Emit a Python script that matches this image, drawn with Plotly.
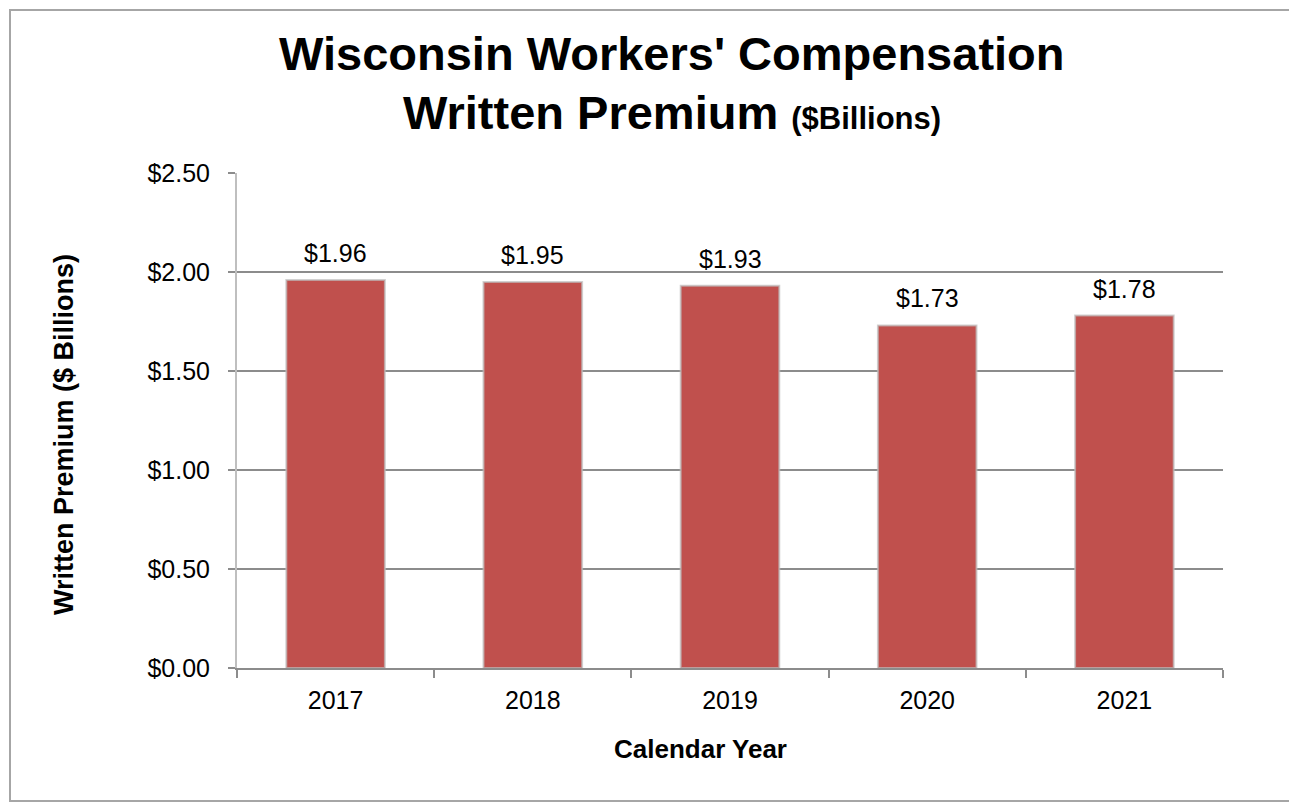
import plotly.graph_objects as go

years = ["2017", "2018", "2019", "2020", "2021"]
premium = [1.96, 1.95, 1.93, 1.73, 1.78]
y_ticks = [0, 0.5, 1.0, 1.5, 2.0, 2.5]
y_tick_labels = ["$0.00", "$0.50", "$1.00", "$1.50", "$2.00", "$2.50"]

FONT = "Liberation Sans, Arial, sans-serif"
OFF = 8  # page body margin
W, H = 1297 - OFF, 805 - OFF
# plot area in page pixels: x 237..1223, y 173..668
L, T = 237 - OFF, 173 - OFF
R, B = W - (1223 - OFF), H - (668 - OFF)
pw, ph = W - L - R, H - T - B

def px_x(p):
    return (p - OFF - L) / pw

def px_y(p):
    return (H - B - (p - OFF)) / ph

fig = go.Figure()
fig.add_trace(go.Bar(
    x=years, y=premium, width=0.5,
    marker=dict(color="#C0504D", line=dict(color="rgba(190,190,190,0.7)", width=2)),
    hoverinfo="x+y",
))

annotations = []
for i, v in enumerate(premium):
    annotations.append(dict(
        x=i, y=v, xref="x", yref="y", text=f"${v:.2f}", showarrow=False,
        yanchor="bottom", yshift=11, font=dict(family=FONT, size=25, color="#000"),
    ))

annotations.append(dict(
    x=px_x(672), y=px_y(53), xref="paper", yref="paper",
    text="<b>Wisconsin Workers' Compensation</b>", showarrow=False,
    xanchor="center", yanchor="middle",
    font=dict(family=FONT, size=47, color="#000"),
))
annotations.append(dict(
    x=px_x(672), y=px_y(112), xref="paper", yref="paper",
    text="<b>Written Premium <span style='font-size:31px'>($Billions)</span></b>",
    showarrow=False, xanchor="center", yanchor="middle",
    font=dict(family=FONT, size=47, color="#000"),
))
annotations.append(dict(
    x=px_x(700), y=px_y(749), xref="paper", yref="paper",
    text="<b>Calendar Year</b>", showarrow=False, xanchor="center", yanchor="middle",
    font=dict(family=FONT, size=26, color="#000"),
))
annotations.append(dict(
    x=px_x(64), y=px_y(435), xref="paper", yref="paper",
    text="<b>Written Premium ($ Billions)</b>", showarrow=False, textangle=-90,
    xanchor="center", yanchor="middle",
    font=dict(family=FONT, size=27, color="#000"),
))

fig.update_layout(
    width=W, height=H,
    margin=dict(l=L, r=R, t=T, b=B),
    paper_bgcolor="white", plot_bgcolor="white",
    showlegend=False, bargap=0.5,
    font=dict(family=FONT, size=25, color="#000"),
    xaxis=dict(
        type="category", showgrid=False, showline=True, linecolor="#8C8C8C", linewidth=2,
        ticks="outside", tickson="boundaries", ticklen=8, tickcolor="#8C8C8C", tickwidth=2,
        tickfont=dict(family=FONT, size=25, color="#000"), ticklabelstandoff=9,
        range=[-0.5, 4.5],
    ),
    yaxis=dict(
        range=[0, 2.5], tickvals=y_ticks, ticktext=y_tick_labels,
        showgrid=True, gridcolor="#8C8C8C", gridwidth=2,
        showline=True, linecolor="#BFBFBF", linewidth=2,
        ticks="outside", ticklen=7, tickcolor="#8C8C8C", tickwidth=2,
        tickfont=dict(family=FONT, size=25, color="#000"), ticklabelstandoff=13,
        zeroline=False,
    ),
    annotations=annotations,
    shapes=[dict(
        type="rect", xref="paper", yref="paper",
        x0=px_x(10), x1=px_x(1291), y0=px_y(801), y1=px_y(10),
        line=dict(color="#A6A6A6", width=2), fillcolor="rgba(0,0,0,0)", layer="below",
    )],
)

fig.write_html("out.html")
